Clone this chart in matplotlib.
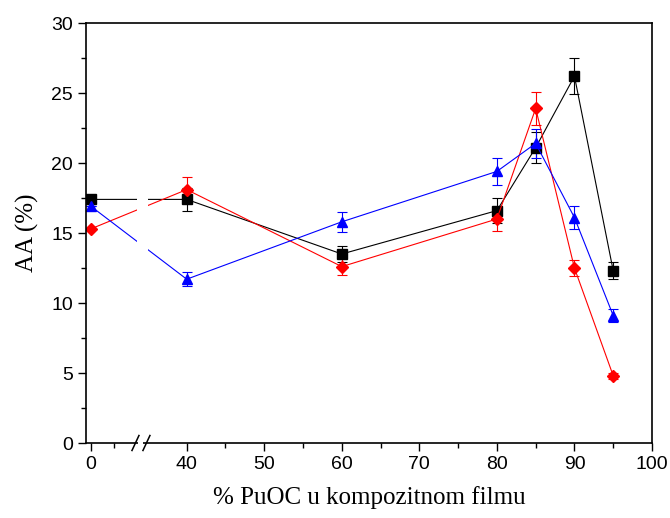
import numpy as np
import matplotlib
matplotlib.use("Agg")
import matplotlib.pyplot as plt
from matplotlib.patches import Rectangle
import matplotlib.transforms as mtransforms

# PuOC content (%) and AA (%) for three series
x_vals = [0, 40, 60, 80, 85, 90, 95]

black_y = [17.4, 17.4, 13.5, 16.6, 21.1, 26.2, 12.3]
black_err = [0.0, 0.8, 0.6, 0.9, 1.1, 1.3, 0.6]

red_y = [15.3, 18.1, 12.6, 16.0, 23.9, 12.5, 4.8]
red_err = [0.0, 0.9, 0.6, 0.85, 1.2, 0.6, 0.2]

blue_y = [16.9, 11.7, 15.8, 19.4, 21.4, 16.1, 9.1]
blue_err = [0.0, 0.5, 0.7, 0.95, 1.05, 0.8, 0.45]

major_ticks = [0, 40, 50, 60, 70, 80, 90, 100]
minor_ticks = [5, 45, 55, 65, 75, 85, 95]

# piecewise linear x scale (broken axis between 10 and 35)
K1 = 4.6
K2 = 7.77
GAP_W = 11.0


def fwd(x):
    x = np.asarray(x, dtype=float)
    return np.where(x <= 10, x * K1,
                    np.where(x <= 35, 10 * K1 + (x - 10) * GAP_W / 25.0,
                             10 * K1 + GAP_W + (x - 35) * K2))


def inv(u):
    u = np.asarray(u, dtype=float)
    a = 10 * K1
    b = a + GAP_W
    return np.where(u <= a, u / K1,
                    np.where(u <= b, 10 + (u - a) * 25.0 / GAP_W,
                             35 + (u - b) / K2))


fig = plt.figure(figsize=(6.7, 5.18), dpi=100)
ax = fig.add_axes([86 / 670, 1 - 443 / 518, (652 - 86) / 670, (443 - 23) / 518])
ax.set_xscale('function', functions=(fwd, inv))

series = [
    (black_y, black_err, 'black', 's', 6.5),
    (red_y, red_err, 'red', 'D', 6.5),
    (blue_y, blue_err, 'blue', '^', 7.5),
]
for y, err, col, mk, ms in series:
    ax.errorbar(x_vals, y, yerr=err, color=col, marker=mk, markersize=ms,
                linewidth=0.8, elinewidth=0.8, capsize=3.6, capthick=0.8)

ax.set_xlim(-1.1, 100)
ax.set_ylim(0, 30)
ax.set_xticks(major_ticks)
ax.set_xticks(minor_ticks, minor=True)
ax.set_yticks(np.arange(0, 31, 5))
ax.set_yticks(np.arange(0, 30.1, 2.5), minor=True)

ax.tick_params(which='both', direction='out', top=False, right=False,
               labelsize=14, width=1)
ax.tick_params(which='major', length=6)
ax.tick_params(which='minor', length=3.5)
for lab in ax.get_xticklabels() + ax.get_yticklabels():
    lab.set_fontfamily('Liberation Sans')
for sp in ax.spines.values():
    sp.set_linewidth(1.2)

# white band over the lines inside the break
ax.add_patch(Rectangle((10.3, 0), 24.5, 30, facecolor='white',
                       edgecolor='none', zorder=2.3))

# gap in bottom spine + break marks
trans = mtransforms.blended_transform_factory(ax.transData, ax.transAxes)


def px2x(p):
    return float(inv(p - 91))


ax.add_patch(Rectangle((px2x(138), -0.01), px2x(143) - px2x(138), 0.02,
                       facecolor='white', edgecolor='none', zorder=3,
                       transform=trans, clip_on=False))
dy = 7.5 / 420
for c in (135.5, 146.5):
    ax.plot([px2x(c - 3.5), px2x(c + 3.5)], [-dy, dy], color='black',
            linewidth=1.1, transform=trans, clip_on=False, zorder=4)

ax.set_xlabel('% PuOC u kompozitnom filmu', fontfamily='Liberation Serif',
              fontsize=18, labelpad=9)
ax.set_ylabel('AA (%)', fontfamily='Liberation Serif', fontsize=18,
              labelpad=9)

plt.savefig('out.png', dpi=100)
